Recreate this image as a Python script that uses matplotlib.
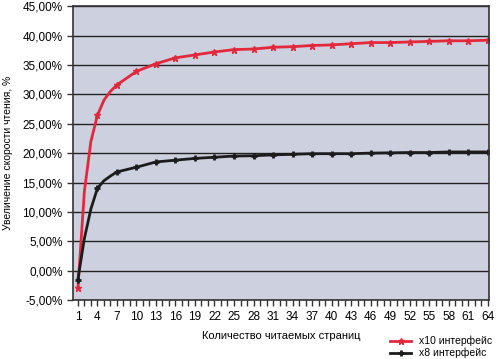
import matplotlib.pyplot as plt
from matplotlib.ticker import FuncFormatter, MultipleLocator

pages = [1, 2, 3, 4, 5, 6, 7, 10, 13, 16, 19, 22, 25, 28, 31, 34, 37, 40,
         43, 46, 49, 52, 55, 58, 61, 64]
x10 = [-3.0, 13.5, 22.0, 26.4, 29.0, 30.5, 31.6, 33.9, 35.2, 36.2, 36.7, 37.2,
       37.6, 37.7, 38.0, 38.1, 38.3, 38.4, 38.6, 38.8, 38.8, 38.9, 39.0, 39.1,
       39.1, 39.2]
x8 = [-1.5, 5.5, 10.5, 14.0, 15.3, 16.1, 16.8, 17.6, 18.5, 18.8, 19.1, 19.3,
      19.5, 19.55, 19.7, 19.8, 19.9, 19.9, 19.9, 20.0, 20.05, 20.1, 20.1, 20.2,
      20.2, 20.2]
xticks = list(range(1, 65, 3))
marks = [i for i, p in enumerate(pages) if (p - 1) % 3 == 0]

plt.rcParams['font.family'] = ['Liberation Sans', 'DejaVu Sans']

fig = plt.figure(figsize=(5, 3.59), dpi=100)
ax = fig.add_axes([0.146, 0.164, 0.832, 0.819])
ax.set_facecolor('#cdd1df')

ax.plot(pages, x10, color='#e4283c', lw=2, marker='*', ms=5,
        markevery=marks, label='x10 интерфейс')
ax.plot(pages, x8, color='#1c1c1c', lw=2, marker='+', ms=5, mew=2,
        markevery=marks, label='x8 интерфейс')

ax.set_xlim(0.25, 64.2)
ax.set_ylim(-5, 45)
ax.set_xticks(xticks)
ax.xaxis.set_minor_locator(MultipleLocator(1))
ax.yaxis.set_major_locator(MultipleLocator(5))
ax.yaxis.set_major_formatter(FuncFormatter(lambda v, p: f'{v:.2f}%'.replace('.', ',')))
ax.grid(axis='y', color='#222222', lw=1)
ax.set_axisbelow(True)
for s in ax.spines.values():
    s.set_color('#333333')
    s.set_linewidth(1.2)
ax.tick_params(axis='both', labelsize=8.5, color='#333333', length=4, width=1)
ax.tick_params(axis='x', which='minor', length=4, width=1, color='#333333')

ax.set_xlabel('Количество читаемых страниц', fontsize=8, labelpad=6)
ax.set_ylabel('Увеличение скорости чтения, %', fontsize=7.5)
ax.yaxis.set_label_coords(-0.144, 0.5)
fig.legend(loc='center left', bbox_to_anchor=(0.77, 0.033), frameon=False,
           fontsize=7.5, handlelength=2, labelspacing=0.15, borderpad=0)

fig.savefig('out.png')
